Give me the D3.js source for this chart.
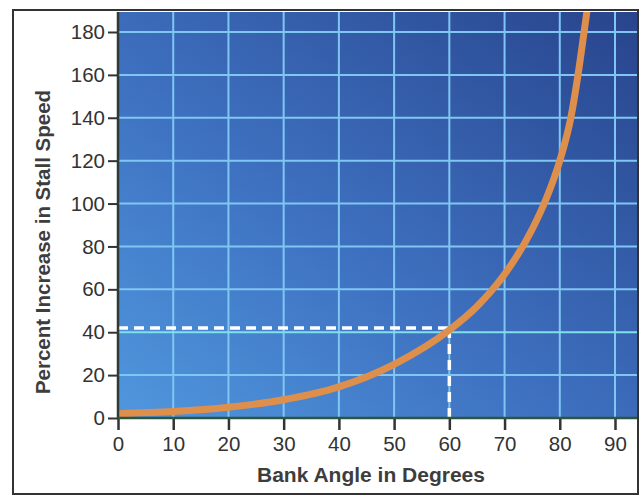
<!DOCTYPE html>
<html>
<head>
<meta charset="utf-8">
<script src="https://cdn.jsdelivr.net/npm/d3@7"></script>
<style>
  html, body { margin: 0; padding: 0; background: #ffffff; }
  svg { display: block; }
  text { font-family: "Liberation Sans", Arial, Helvetica, sans-serif; }
</style>
</head>
<body>
<svg id="chart" width="641" height="498"></svg>
<script>
// ---- data ----
const bankAngle = [0, 10, 20, 30, 40, 50, 60, 65, 70, 75, 77.5, 80, 82, 83.3, 84.4, 85.1];
const stallIncrease = [2, 3, 5, 8.5, 14.5, 25, 41, 52, 67, 88, 102, 120, 140, 160, 180, 193];
const xTicks = [0, 10, 20, 30, 40, 50, 60, 70, 80, 90];
const yTicks = [0, 20, 40, 60, 80, 100, 120, 140, 160, 180];
const markerAngle = [60];
const markerValue = [42];
const xTitle = "Bank Angle in Degrees";
const yTitle = "Percent Increase in Stall Speed";

// ---- layout ----
const svg = d3.select("#chart");
const plotLeft = 118, plotRight = 637, plotTop = 12, plotBottom = 418;

const x = d3.scaleLinear().domain([0, 90]).range([118, 615]);
const y = d3.scaleLinear().domain([0, 180]).range([418, 32]);

const defs = svg.append("defs");
const grad = defs.append("linearGradient")
  .attr("id", "bg").attr("x1", "0").attr("y1", "1").attr("x2", "1").attr("y2", "0");
grad.append("stop").attr("offset", "0").attr("stop-color", "#5097de");
grad.append("stop").attr("offset", "0.45").attr("stop-color", "#3d6fbe");
grad.append("stop").attr("offset", "1").attr("stop-color", "#28448c");

defs.append("clipPath").attr("id", "plotclip")
  .append("rect")
  .attr("x", plotLeft).attr("y", plotTop)
  .attr("width", plotRight - plotLeft).attr("height", plotBottom - plotTop);

// plot background
svg.append("rect")
  .attr("x", plotLeft).attr("y", plotTop)
  .attr("width", plotRight - plotLeft).attr("height", plotBottom - plotTop)
  .attr("fill", "url(#bg)");

// grid
const grid = svg.append("g").attr("clip-path", "url(#plotclip)");
grid.selectAll("line.v").data(xTicks.filter(d => d > 0)).enter().append("line")
  .attr("x1", d => x(d)).attr("x2", d => x(d))
  .attr("y1", plotTop).attr("y2", plotBottom)
  .attr("stroke", "#80c6f3").attr("stroke-width", 2);
grid.selectAll("line.h").data(yTicks.filter(d => d > 0)).enter().append("line")
  .attr("x1", plotLeft).attr("x2", plotRight)
  .attr("y1", d => y(d)).attr("y2", d => y(d))
  .attr("stroke", d => d === 40 ? "#7fe0ea" : "#80c6f3").attr("stroke-width", 2);

// dashed marker lines
const dash = svg.append("g").attr("clip-path", "url(#plotclip)");
dash.append("line")
  .attr("x1", x(0)).attr("x2", x(markerAngle[0]))
  .attr("y1", y(markerValue[0])).attr("y2", y(markerValue[0]))
  .attr("stroke", "#ffffff").attr("stroke-width", 3.5).attr("stroke-dasharray", "10,6");
dash.append("line")
  .attr("x1", x(markerAngle[0])).attr("x2", x(markerAngle[0]))
  .attr("y1", y(markerValue[0])).attr("y2", y(0))
  .attr("stroke", "#ffffff").attr("stroke-width", 3.5).attr("stroke-dasharray", "10,6");

// curve
const pts = bankAngle.map((a, i) => [a, stallIncrease[i]]);
const line = d3.line().x(d => x(d[0])).y(d => y(d[1])).curve(d3.curveMonotoneX);
svg.append("g").attr("clip-path", "url(#plotclip)")
  .append("path").datum(pts)
  .attr("d", line)
  .attr("fill", "none")
  .attr("stroke", "#de8f4c")
  .attr("stroke-width", 7)
  .attr("stroke-linecap", "butt");

// axes
const yAxis = d3.axisLeft(y).tickValues(yTicks).tickSize(10).tickPadding(3);
const gy = svg.append("g").attr("transform", `translate(${plotLeft},0)`).call(yAxis);
gy.select(".domain").remove();
gy.selectAll(".tick line").attr("stroke", "#333").attr("stroke-width", 2);
gy.selectAll(".tick text").attr("fill", "#333").attr("font-size", 20.5)
  .attr("font-family", "Liberation Sans, Arial, sans-serif");

const xAxis = d3.axisBottom(x).tickValues(xTicks).tickSize(12).tickPadding(6);
const gx = svg.append("g").attr("transform", `translate(0,${plotBottom})`).call(xAxis);
gx.select(".domain").remove();
gx.selectAll(".tick line").attr("stroke", "#333").attr("stroke-width", 2.5);
gx.selectAll(".tick text").attr("fill", "#333").attr("font-size", 20.5)
  .attr("font-family", "Liberation Sans, Arial, sans-serif");

// axis lines
svg.append("line").attr("x1", plotLeft).attr("x2", plotLeft)
  .attr("y1", plotTop).attr("y2", plotBottom + 1)
  .attr("stroke", "#2e3a36").attr("stroke-width", 2.5);
svg.append("line").attr("x1", plotLeft).attr("x2", plotRight)
  .attr("y1", plotBottom).attr("y2", plotBottom)
  .attr("stroke", "#2d5642").attr("stroke-width", 2.5);

// titles
svg.append("text")
  .attr("x", 371).attr("y", 482)
  .attr("text-anchor", "middle")
  .attr("font-size", 21).attr("font-weight", "bold").attr("fill", "#3d3d3d")
  .text(xTitle);
svg.append("text")
  .attr("transform", "translate(50,242) rotate(-90)")
  .attr("text-anchor", "middle")
  .attr("font-size", 20.5).attr("font-weight", "bold").attr("fill", "#3d3d3d")
  .text(yTitle);

// outer frame
svg.append("rect")
  .attr("x", 13).attr("y", 10).attr("width", 625).attr("height", 484)
  .attr("fill", "none").attr("stroke", "#333").attr("stroke-width", 2);
</script>
</body>
</html>
